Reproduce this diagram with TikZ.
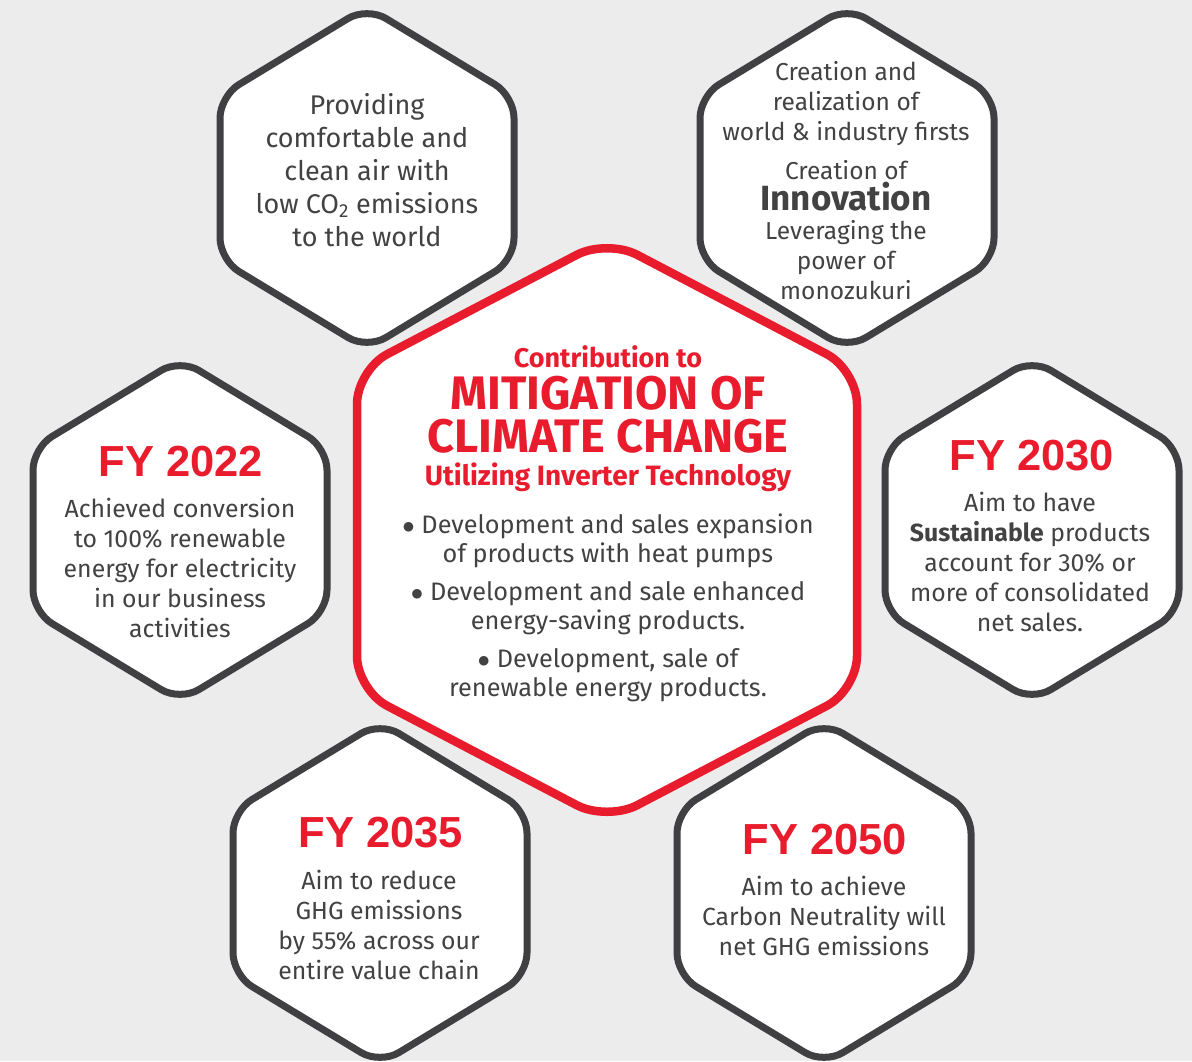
\documentclass[tikz,border=0pt]{standalone}
\usepackage{fontspec}
\setmainfont{Fira Sans}
\newfontfamily\yearfont{Liberation Sans}
\definecolor{bgcol}{RGB}{235,236,235}
\definecolor{edgecol}{RGB}{64,64,66}
\definecolor{redcol}{RGB}{233,28,46}
\definecolor{txtcol}{RGB}{66,66,66}

\begin{document}
\begin{tikzpicture}[x=1pt,y=-1pt,
		smallhex/.style={draw=edgecol,line width=7pt,fill=white,rounded corners=22pt},
		bighex/.style={draw=redcol,line width=8.5pt,fill=white,rounded corners=34pt},
		body/.style={text=txtcol,align=center,inner sep=0pt,font=\fontsize{24.8}{30}\selectfont},
		year/.style={text=redcol,inner sep=0pt,font=\yearfont\bfseries\fontsize{43.5}{43}\selectfont},
		redtxt/.style={text=redcol,align=center,inner sep=0pt}]
\useasboundingbox (0,0) rectangle (1192,1061);
\clip (0,0) rectangle (1192,1061);
\fill[bgcol] (0,0) rectangle (1192,1061);

% outer hexagons
\foreach \cx/\cy in {367/178, 847/178, 180/530, 1032/530, 380/893, 824/893}
	\draw[smallhex] (\cx,\cy) +(0,-171) -- +(147,-82) -- +(147,82) -- +(0,171)
		-- +(-147,82) -- +(-147,-82) -- cycle;

% centre hexagon
\draw[bighex] (607,530) +(0,-291) -- +(250,-160) -- +(250,160) -- +(0,291)
	-- +(-250,160) -- +(-250,-160) -- cycle;

% top left
\node[body,font=\fontsize{27}{33}\selectfont] (comfort) at (367,170)
	{Providing\\comfortable and\\clean air with\\low CO\textsubscript{2} emissions\\to the world};

% top right
\node[body,font=\fontsize{24.5}{30}\selectfont] (firsts) at (846,104)
	{Creation and\\realization of\\world \& industry firsts};
\node[body,font=\fontsize{24.5}{30}\selectfont] (creation) at (846,170) {Creation of};
\node[body,font=\bfseries\fontsize{35}{35}\selectfont] (innov) at (846,197) {Innovation};
\node[body,font=\fontsize{24.5}{30}\selectfont] (monozukuri) at (846,260)
	{Leveraging the\\power of\\monozukuri};

% left and right
\node[year] (fy22) at (181,462) {FY 2022};
\node[body] (fy22txt) at (180,568)
	{Achieved conversion\\to 100\% renewable\\energy for electricity\\in our business\\activities};
\node[year] (fy30) at (1032,456) {FY 2030};
\node[body] (fy30txt) at (1030,562)
	{Aim to have\\{\bfseries Sustainable} products\\account for 30\% or\\more of consolidated\\net sales.};

% bottom
\node[year] (fy35) at (381,833) {FY 2035};
\node[body] (fy35txt) at (379,925)
	{Aim to reduce\\GHG emissions\\by 55\% across our\\entire value chain};
\node[year] (fy50) at (825,840) {FY 2050};
\node[body] (fy50txt) at (824,916)
	{Aim to achieve\\Carbon Neutrality will\\net GHG emissions};

% centre text
\node[redtxt,font=\bfseries\fontsize{27}{27}\selectfont] (contrib) at (608,357) {Contribution to};
\node[redtxt,font=\bfseries\fontsize{47}{43}\selectfont] (mitig) at (608,415)
	{MITIGATION OF\\CLIMATE CHANGE};
\node[redtxt,font=\bfseries\fontsize{28}{28}\selectfont] (inverter) at (608,477)
	{Utilizing Inverter Technology};
\node[body,font=\fontsize{25.3}{29.5}\selectfont] (bullets) at (608,608)
	{$\bullet$ Development and sales expansion\\of products with heat pumps\\[8pt]
	 $\bullet$ Development and sale enhanced\\energy-saving products.\\[8pt]
	 $\bullet$ Development, sale of\\renewable energy products.};
\end{tikzpicture}
\end{document}
